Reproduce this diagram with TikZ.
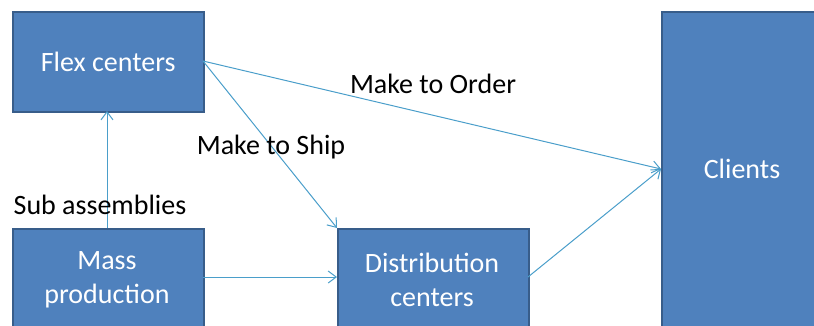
\documentclass[tikz,border=0pt]{standalone}
\usepackage{fontspec}
\setmainfont{Carlito}
\usetikzlibrary{arrows.meta}
\definecolor{boxfill}{HTML}{4F81BD}
\definecolor{boxline}{HTML}{385D8A}
\definecolor{arrowc}{RGB}{74,158,202}
\begin{document}
\begin{tikzpicture}[x=1pt,y=-1pt,
  box/.style={draw=boxline,line width=1.5pt,fill=boxfill,text=white,
    font=\fontsize{28}{32}\selectfont,align=center,inner sep=0pt},
  conn/.style={draw=arrowc,line width=1pt,-{Straight Barb[length=8pt,width=12pt]}},
  lbl/.style={font=\fontsize{28}{32}\selectfont,text=black,inner sep=0pt}]
\useasboundingbox (0,0) rectangle (814,325);
\begin{scope}
\clip (0,0) rectangle (814,325);
\node[box,minimum width=191pt,minimum height=100pt,anchor=north west] (flex) at (12,11) {Flex centers};
\node[box,minimum width=191pt,minimum height=110pt,anchor=north west] (mass) at (12,228) {};
\node[box,minimum width=191pt,minimum height=110pt,anchor=north west] (dist) at (337,228) {};
\node[box,minimum width=220pt,minimum height=330pt,anchor=north west] (cli) at (661,11) {};
\end{scope}
\node[text=white,font=\fontsize{28}{34}\selectfont,align=center] (masst) at (107,280) {Mass\\production};
\node[text=white,font=\fontsize{28}{34}\selectfont,align=center] (distt) at (432,280) {Distribution\\centers};
\node[text=white,font=\fontsize{28}{32}\selectfont] (clit) at (742,169) {Clients};
\coordinate (flexR) at (203,61);
\coordinate (cliL) at (661,169);
\coordinate (distR) at (528,277);
\coordinate (massR) at (203,277);
\coordinate (distL) at (337,277);
\coordinate (massT) at (107,228);
\coordinate (flexB) at (107,111);
\coordinate (distT) at (337,228);
\draw[conn] (massT) -- (flexB);
\draw[conn] (massR) -- (distL);
\draw[conn] (flexR) -- (distT);
\draw[conn] (flexR) -- (cliL);
\draw[conn] (distR) -- (cliL);
\node[lbl] (l1) at (433,84) {Make to Order};
\node[lbl] (l2) at (271,147) {Make to Ship};
\node[lbl] (l3) at (100,205) {Sub assemblies};
\end{tikzpicture}
\end{document}
